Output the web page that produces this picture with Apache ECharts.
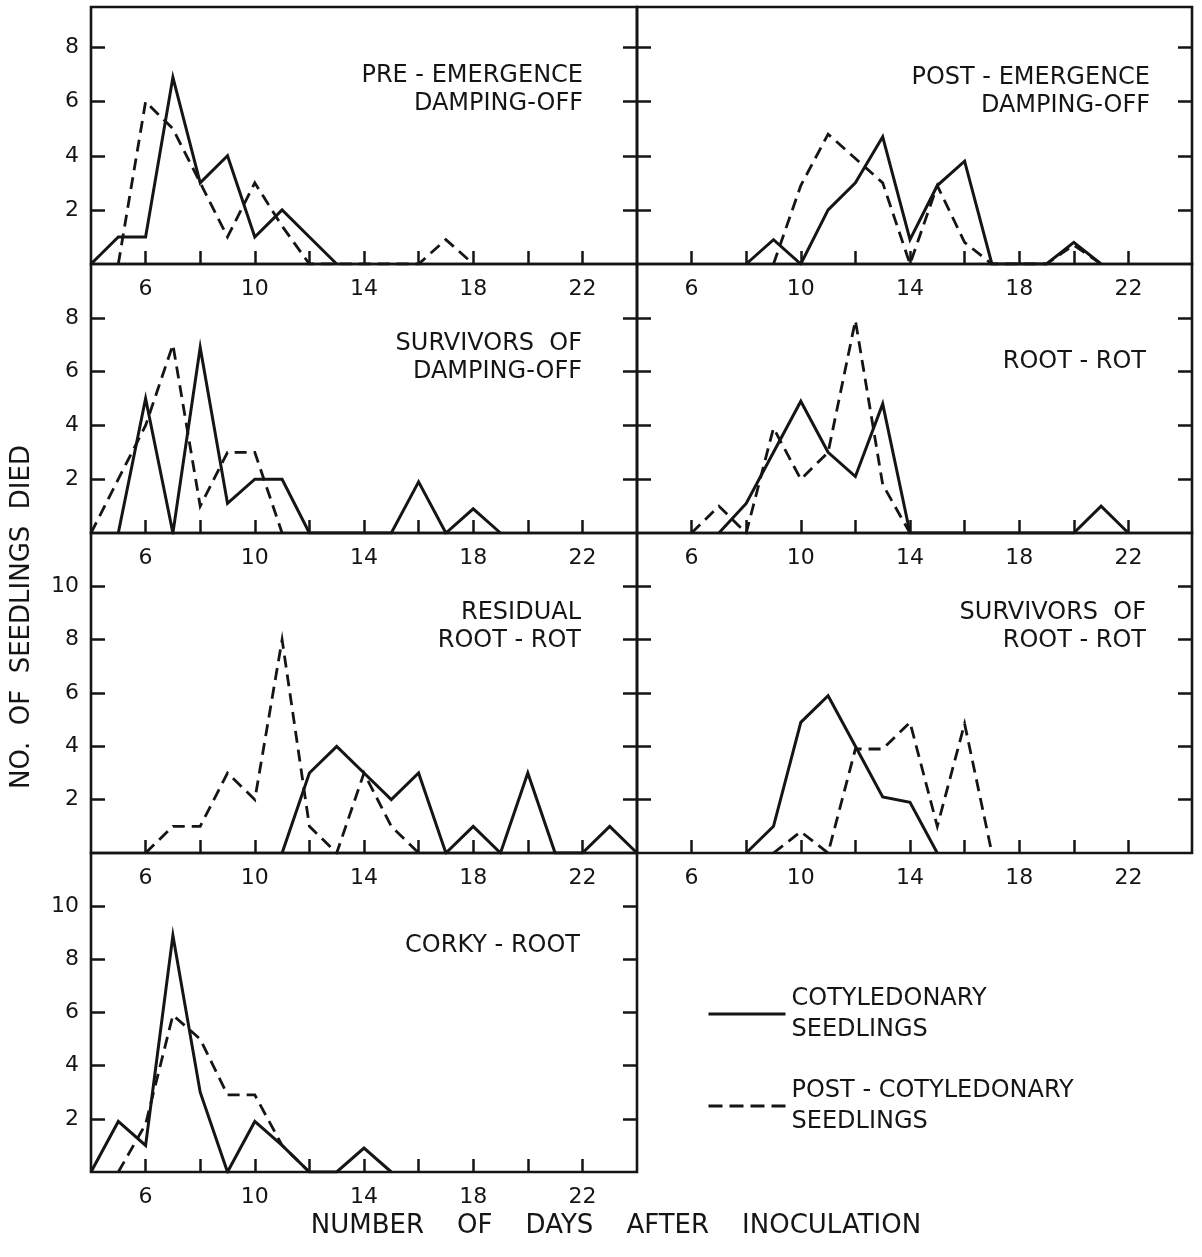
<!DOCTYPE html>
<html>
<head>
<meta charset="utf-8">
<script src="https://cdn.jsdelivr.net/npm/echarts@6/dist/echarts.min.js"></script>
<style>
html,body{margin:0;padding:0;background:#ffffff;}
#chart{width:1202px;height:1257px;}
</style>
</head>
<body>
<div id="chart"></div>
<script>
// ---------------- DATA ----------------
// Tick values
const xTickValues = [6, 8, 10, 12, 14, 16, 18, 20, 22];
const xLabelValues = [6, 10, 14, 18, 22];
const yTicksShort = [2, 4, 6, 8];
const yTicksTall = [2, 4, 6, 8, 10];

// Panel titles
const panelTitles = [
  'PRE - EMERGENCE\nDAMPING-OFF',
  'POST - EMERGENCE\nDAMPING-OFF',
  'SURVIVORS  OF\nDAMPING-OFF',
  'ROOT - ROT',
  'RESIDUAL\nROOT - ROT',
  'SURVIVORS  OF\nROOT - ROT',
  'CORKY - ROOT'
];

const seriesNames = ['COTYLEDONARY SEEDLINGS', 'POST - COTYLEDONARY SEEDLINGS'];

// 1. Pre-emergence damping-off
const preCotyDays = [4, 5, 6, 7, 8, 9, 10, 11, 12, 13];
const preCotyVals = [0, 1, 1, 6.9, 3, 4, 1, 2, 1, 0];
const prePostDays = [5, 6, 7, 8, 9, 10, 11, 12, 13, 14, 15, 16, 17, 18];
const prePostVals = [0, 6, 5, 3, 1, 3, 1.4, 0, 0, 0, 0, 0, 0.9, 0];

// 2. Post-emergence damping-off
const postEmCotyDays = [8, 9, 10, 11, 12, 13, 14, 15, 16, 17, 18, 19, 20, 21];
const postEmCotyVals = [0, 0.9, 0, 2, 3, 4.7, 0.9, 2.9, 3.8, 0, 0, 0, 0.8, 0];
const postEmPostDays = [9, 10, 11, 12, 13, 14, 15, 16, 17, 18, 19, 20, 21];
const postEmPostVals = [0, 2.9, 4.8, 3.9, 3, 0, 2.9, 0.8, 0, 0, 0, 0.7, 0];

// 3. Survivors of damping-off
const survDampCotyDays = [5, 6, 7, 8, 9, 10, 11, 12, 13, 14, 15, 16, 17, 18, 19];
const survDampCotyVals = [0, 5, 0, 6.9, 1.1, 2, 2, 0, 0, 0, 0, 1.9, 0, 0.9, 0];
const survDampPostDays = [4, 5, 6, 7, 8, 9, 10, 11];
const survDampPostVals = [0, 2, 4, 7, 1, 3, 3, 0];

// 4. Root-rot
const rootRotCotyDays = [7, 8, 9, 10, 11, 12, 13, 14, 15, 16, 17, 18, 19, 20, 21, 22];
const rootRotCotyVals = [0, 1.1, 3, 4.9, 3, 2.1, 4.8, 0, 0, 0, 0, 0, 0, 0, 1, 0];
const rootRotPostDays = [6, 7, 8, 9, 10, 11, 12, 13, 14];
const rootRotPostVals = [0, 1, 0, 3.9, 2, 3, 7.9, 1.8, 0];

// 5. Residual root-rot
const residCotyDays = [11, 12, 13, 14, 15, 16, 17, 18, 19, 20, 21, 22, 23, 24];
const residCotyVals = [0, 3, 4, 3, 2, 3, 0, 1, 0, 3, 0, 0, 1, 0];
const residPostDays = [6, 7, 8, 9, 10, 11, 12, 13, 14, 15, 16];
const residPostVals = [0, 1, 1, 3, 2, 8, 1, 0, 3, 1, 0];

// 6. Survivors of root-rot
const survRootCotyDays = [8, 9, 10, 11, 12, 13, 14, 15];
const survRootCotyVals = [0, 1, 4.9, 5.9, 4, 2.1, 1.9, 0];
const survRootPostDays = [9, 10, 11, 12, 13, 14, 15, 16, 17];
const survRootPostVals = [0, 0.8, 0, 3.9, 3.9, 4.9, 1, 4.85, 0];

// 7. Corky-root
const corkyCotyDays = [4, 5, 6, 7, 8, 9, 10, 11, 12, 13, 14, 15];
const corkyCotyVals = [0, 1.9, 1, 8.9, 3, 0, 1.9, 1, 0, 0, 0.9, 0];
const corkyPostDays = [5, 6, 7, 8, 9, 10, 11, 12];
const corkyPostVals = [0, 1.8, 5.9, 5, 2.9, 2.9, 1, 0];

// ---------------- LAYOUT / STYLE ----------------
const FONT = 'DejaVu Sans';
const INK = '#151515';

const panels = [
  {left: 91,  top: 7,   width: 546, height: 257, xMax: 24,    yMax: 9.5, yTicks: yTicksShort, yLabels: true,
   coty: [preCotyDays, preCotyVals], post: [prePostDays, prePostVals], tx: 583, ty: 90},
  {left: 637, top: 7,   width: 555, height: 257, xMax: 24.33, yMax: 9.5, yTicks: yTicksShort, yLabels: false,
   coty: [postEmCotyDays, postEmCotyVals], post: [postEmPostDays, postEmPostVals], tx: 1150, ty: 92},
  {left: 91,  top: 264, width: 546, height: 269, xMax: 24,    yMax: 10,  yTicks: yTicksShort, yLabels: true,
   coty: [survDampCotyDays, survDampCotyVals], post: [survDampPostDays, survDampPostVals], tx: 582, ty: 358},
  {left: 637, top: 264, width: 555, height: 269, xMax: 24.33, yMax: 10,  yTicks: yTicksShort, yLabels: false,
   coty: [rootRotCotyDays, rootRotCotyVals], post: [rootRotPostDays, rootRotPostVals], tx: 1146, ty: 362},
  {left: 91,  top: 533, width: 546, height: 320, xMax: 24,    yMax: 12,  yTicks: yTicksTall, yLabels: true,
   coty: [residCotyDays, residCotyVals], post: [residPostDays, residPostVals], tx: 581, ty: 627},
  {left: 637, top: 533, width: 555, height: 320, xMax: 24.33, yMax: 12,  yTicks: yTicksTall, yLabels: false,
   coty: [survRootCotyDays, survRootCotyVals], post: [survRootPostDays, survRootPostVals], tx: 1146, ty: 627},
  {left: 91,  top: 853, width: 546, height: 319, xMax: 24,    yMax: 12,  yTicks: yTicksTall, yLabels: true,
   coty: [corkyCotyDays, corkyCotyVals], post: [corkyPostDays, corkyPostVals], tx: 580, ty: 946}
];

const pair = (d, v) => d.map((x, i) => [x, v[i]]);
const tickLine = {color: INK, width: 2.5};
const labelFont = {fontFamily: FONT, fontSize: 22, color: INK};
const DASH = [12, 7];

const grid = [], xAxis = [], yAxis = [], series = [], graphic = [];

panels.forEach((p, i) => {
  grid.push({left: p.left, top: p.top, width: p.width, height: p.height,
    show: true, borderColor: INK, borderWidth: 2.6, backgroundColor: 'transparent', containLabel: false});
  xAxis.push({
    gridIndex: i, type: 'value', min: 4, max: p.xMax, interval: 2,
    axisLine: {show: false}, splitLine: {show: false},
    axisTick: {show: true, inside: true, length: 13, customValues: xTickValues, lineStyle: tickLine},
    axisLabel: Object.assign({show: true, margin: 25, verticalAlign: 'middle', customValues: xLabelValues,
      formatter: v => (xLabelValues.indexOf(v) >= 0 ? String(v) : '')}, labelFont)
  });
  yAxis.push({
    gridIndex: i, type: 'value', position: 'left', min: 0, max: p.yMax, interval: 2,
    axisLine: {show: false}, splitLine: {show: false},
    axisTick: {show: true, inside: true, length: 14, customValues: p.yTicks, lineStyle: tickLine},
    axisLabel: Object.assign({show: p.yLabels, margin: 12, customValues: p.yTicks,
      formatter: v => (p.yTicks.indexOf(v) >= 0 ? String(v) : '')}, labelFont)
  });
  yAxis.push({
    gridIndex: i, type: 'value', position: 'right', min: 0, max: p.yMax, interval: 2,
    axisLine: {show: false}, splitLine: {show: false},
    axisTick: {show: true, inside: true, length: 14, customValues: p.yTicks, lineStyle: tickLine},
    axisLabel: {show: false}
  });
  series.push({
    name: seriesNames[0], type: 'line', xAxisIndex: i, yAxisIndex: 2 * i,
    data: pair(p.coty[0], p.coty[1]), symbol: 'none', showSymbol: false, clip: true,
    lineStyle: {color: INK, width: 3, type: 'solid', join: 'miter'}, itemStyle: {color: INK}, z: 3
  });
  series.push({
    name: seriesNames[1], type: 'line', xAxisIndex: i, yAxisIndex: 2 * i,
    data: pair(p.post[0], p.post[1]), symbol: 'none', showSymbol: false, clip: true,
    lineStyle: {color: INK, width: 2.8, type: DASH, join: 'miter'}, itemStyle: {color: INK}, z: 3
  });
  graphic.push({
    type: 'text', x: p.tx, y: p.ty, silent: true,
    style: {text: panelTitles[i], align: 'right', verticalAlign: 'middle',
      font: '24px "' + FONT + '"', lineHeight: 28, fill: INK}
  });
});

// Axis titles
graphic.push({
  type: 'text', x: 22, y: 617, rotation: Math.PI / 2, silent: true,
  style: {text: 'NO.  OF  SEEDLINGS  DIED', align: 'center', verticalAlign: 'middle',
    font: '26px "' + FONT + '"', fill: INK}
});
graphic.push({
  type: 'text', x: 616, y: 1226, silent: true,
  style: {text: 'NUMBER    OF    DAYS    AFTER    INOCULATION', align: 'center', verticalAlign: 'middle',
    font: '26px "' + FONT + '"', fill: INK}
});

const option = {
  backgroundColor: '#ffffff',
  animation: false,
  grid: grid,
  xAxis: xAxis,
  yAxis: yAxis,
  series: series,
  graphic: graphic,
  legend: {
    orient: 'vertical', left: 702, top: 978,
    itemWidth: 77, itemHeight: 14, itemGap: 30,
    selectedMode: false,
    data: [
      {name: seriesNames[0], itemStyle: {opacity: 0}, lineStyle: {color: INK, width: 3, type: 'solid'}},
      {name: seriesNames[1], itemStyle: {opacity: 0}, lineStyle: {color: INK, width: 3, type: [14, 7]}}
    ],
    formatter: n => n.replace(' SEEDLINGS', '\nSEEDLINGS'),
    textStyle: {fontFamily: FONT, fontSize: 24, color: INK, lineHeight: 31, padding: [0, 0, 0, 1]}
  }
};

const chart = echarts.init(document.getElementById('chart'), null, {renderer: 'canvas'});
chart.setOption(option);
</script>
</body>
</html>
